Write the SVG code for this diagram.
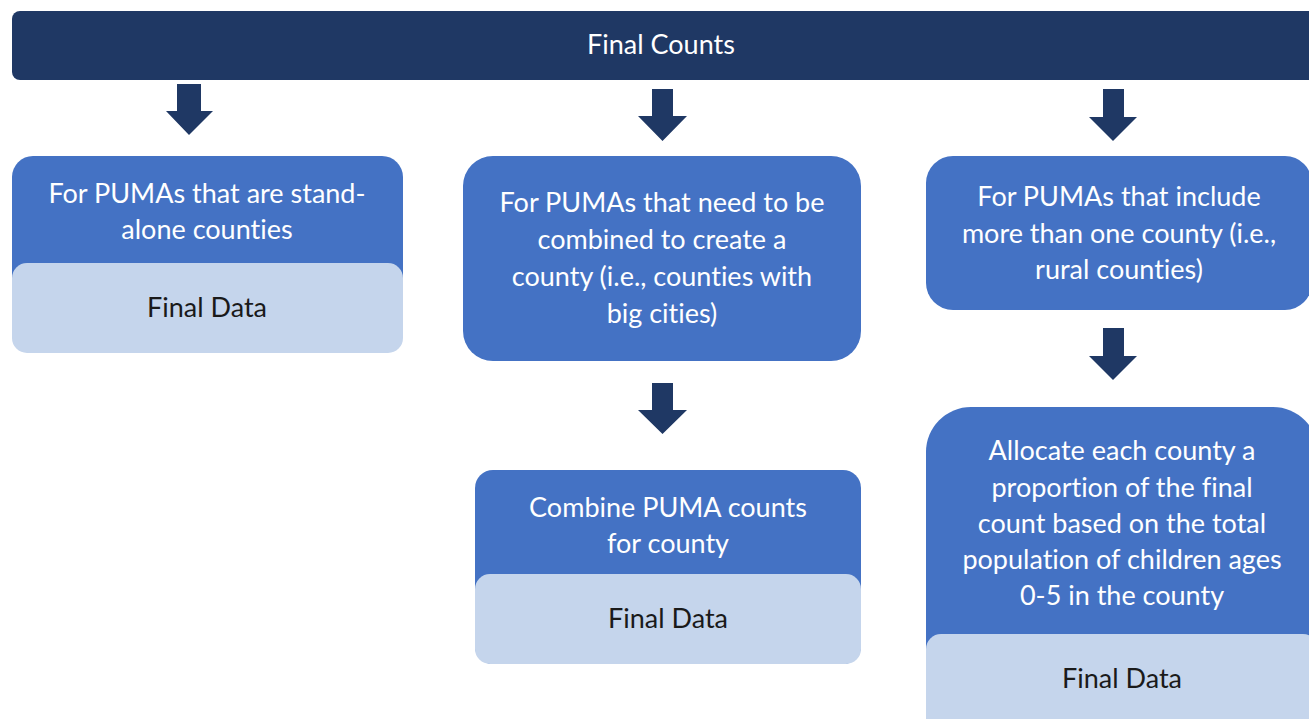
<svg xmlns="http://www.w3.org/2000/svg" width="1309" height="719" viewBox="0 0 1309 719">
<style>
.top{fill:#1F3864}
.blue{fill:#4472C4}
.light{fill:#C5D5EC}
.arrow{fill:#1F3864}
text{font-family:Lato,"Liberation Sans",sans-serif;font-size:27px;text-anchor:middle;font-variant-ligatures:none}
.w{fill:#FFFFFF}
.k{fill:#1A1A1A}
</style>
<rect width="1309" height="719" fill="#FFFFFF"/>
<g id="final-counts">
<rect class="top" x="12" y="11" width="1310" height="69" rx="8"/>
<text class="w" x="661" y="54">Final Counts</text>
</g>
<g id="connectors">
<polygon class="arrow" points="177,84 201,84 201,111 213,111 189,135 166,111 177,111"/>
<polygon class="arrow" points="652,89 673,89 673,116 687,116 662.5,141 638,116 652,116"/>
<polygon class="arrow" points="1103,89 1124,89 1124,117 1137,117 1113,141 1089,117 1103,117"/>
<polygon class="arrow" points="652,383 673,383 673,410 687,410 662.5,434 638,410 652,410"/>
<polygon class="arrow" points="1103,328 1124,328 1124,356 1137,356 1113,380 1089,356 1103,356"/>
</g>
<g id="standalone">
<rect class="blue" x="12" y="156" width="391" height="197" rx="21"/>
<rect class="light" x="12" y="263" width="391" height="90" rx="15"/>
<text class="w" x="207" y="203">For PUMAs that are stand-</text>
<text class="w" x="207" y="239">alone counties</text>
<text class="k" x="207" y="317">Final Data</text>
</g>
<g id="combined">
<rect class="blue" x="463" y="156" width="398" height="205" rx="30"/>
<text class="w" x="662" y="212">For PUMAs that need to be</text>
<text class="w" x="662" y="249">combined to create a</text>
<text class="w" x="662" y="286">county (i.e., counties with</text>
<text class="w" x="662" y="323">big cities)</text>
</g>
<g id="combine-counts">
<rect class="blue" x="475" y="470" width="386" height="194" rx="18"/>
<rect class="light" x="475" y="574" width="386" height="90" rx="15"/>
<text class="w" x="668" y="517">Combine PUMA counts</text>
<text class="w" x="668" y="553">for county</text>
<text class="k" x="668" y="628">Final Data</text>
</g>
<g id="multi-county">
<rect class="blue" x="926" y="156" width="386" height="154" rx="27"/>
<text class="w" x="1119" y="206">For PUMAs that include</text>
<text class="w" x="1119" y="243">more than one county (i.e.,</text>
<text class="w" x="1119" y="279">rural counties)</text>
</g>
<g id="allocate">
<rect class="blue" x="926" y="407" width="392" height="330" rx="45"/>
<rect class="light" x="926" y="634" width="392" height="100" rx="15"/>
<text class="w" x="1122" y="460">Allocate each county a</text>
<text class="w" x="1122" y="497">proportion of the final</text>
<text class="w" x="1122" y="533">count based on the total</text>
<text class="w" x="1122" y="569">population of children ages</text>
<text class="w" x="1122" y="605">0-5 in the county</text>
<text class="k" x="1122" y="688">Final Data</text>
</g>
</svg>
